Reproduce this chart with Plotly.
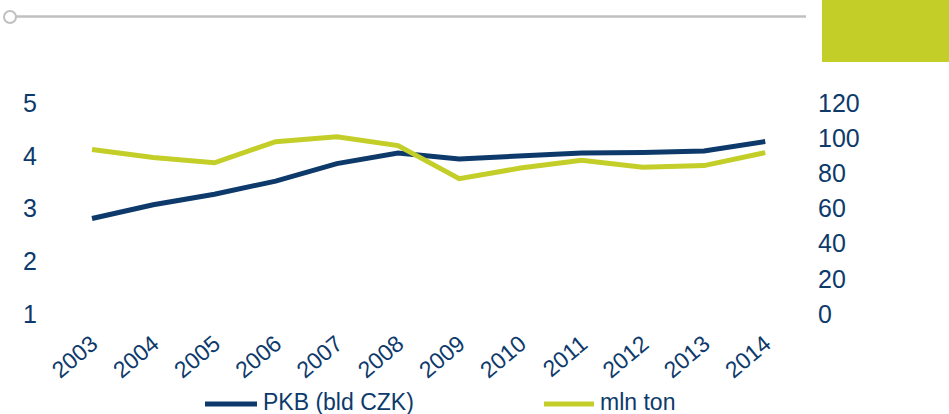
import plotly.graph_objects as go

years = ["2003", "2004", "2005", "2006", "2007", "2008", "2009", "2010", "2011", "2012", "2013", "2014"]
pkb = [2.81, 3.07, 3.27, 3.52, 3.85, 4.05, 3.94, 3.99, 4.05, 4.06, 4.09, 4.27]
mln_ton = [93.5, 89.0, 86.0, 98.0, 100.8, 95.8, 77.0, 83.0, 87.4, 83.4, 84.4, 91.8]
left_ticks = [1, 2, 3, 4, 5]
right_ticks = [0, 20, 40, 60, 80, 100, 120]

NAVY = "#0D3A6B"
GREEN = "#C3CF28"
FONT = "Liberation Sans, Arial, sans-serif"

W, H = 949, 414
L, R, T, B = 40, 812, 103, 314

def px_x(px):
    return (px - L) / (R - L)

def px_y(py):
    return (B - py) / (B - T)

fig = go.Figure()
fig.add_trace(go.Scatter(x=years, y=pkb, name="PKB (bld CZK)", mode="lines",
                         line=dict(color=NAVY, width=5), showlegend=False))
fig.add_trace(go.Scatter(x=years, y=mln_ton, name="mln ton", mode="lines",
                         line=dict(color=GREEN, width=5), yaxis="y2", showlegend=False))

shapes = [
    # header rule with circle
    dict(type="line", xref="paper", yref="paper", x0=px_x(16), x1=px_x(806),
         y0=px_y(16.5), y1=px_y(16.5), line=dict(color="#C0C0C0", width=2.5)),
    dict(type="circle", xref="paper", yref="paper", x0=px_x(4), x1=px_x(16),
         y0=px_y(11), y1=px_y(23), line=dict(color="#C0C0C0", width=2), fillcolor="white"),
    # green block
    dict(type="rect", xref="paper", yref="paper", x0=px_x(822), x1=px_x(949),
         y0=px_y(62), y1=px_y(0), line=dict(width=0), fillcolor=GREEN),
    # legend swatches
    dict(type="line", xref="paper", yref="paper", x0=px_x(205), x1=px_x(257),
         y0=px_y(404), y1=px_y(404), line=dict(color=NAVY, width=5)),
    dict(type="line", xref="paper", yref="paper", x0=px_x(544), x1=px_x(594),
         y0=px_y(404), y1=px_y(404), line=dict(color=GREEN, width=5)),
]

annotations = [
    dict(text="PKB (bld CZK)", xref="paper", yref="paper", x=px_x(261), y=px_y(401.5),
         xanchor="left", yanchor="middle", showarrow=False,
         font=dict(family=FONT, size=23, color=NAVY)),
    dict(text="mln ton", xref="paper", yref="paper", x=px_x(598), y=px_y(401.5),
         xanchor="left", yanchor="middle", showarrow=False,
         font=dict(family=FONT, size=23, color=NAVY)),
]

fig.update_layout(
    width=W, height=H,
    margin=dict(l=L, r=W - R, t=T, b=H - B, pad=0),
    paper_bgcolor="white", plot_bgcolor="white",
    font=dict(family=FONT, color=NAVY),
    xaxis=dict(type="category", range=[-0.85, 11.764], showgrid=False, zeroline=False,
               showline=False, ticks="", tickangle=-40, ticklabelstandoff=11,
               tickfont=dict(family=FONT, size=23, color=NAVY)),
    yaxis=dict(range=[1, 5], tickvals=left_ticks, showgrid=False, zeroline=False,
               showline=False, ticks="", ticklabelstandoff=2,
               tickfont=dict(family=FONT, size=25, color=NAVY)),
    yaxis2=dict(range=[0, 120], tickvals=right_ticks, overlaying="y", side="right",
                showgrid=False, zeroline=False, showline=False, ticks="", ticklabelstandoff=5,
                tickfont=dict(family=FONT, size=25, color=NAVY)),
    shapes=shapes,
    annotations=annotations,
    showlegend=False,
)

fig.write_html("out.html", config={"displayModeBar": False},
               post_script="document.body.style.margin='0';document.body.style.overflow='hidden';")
